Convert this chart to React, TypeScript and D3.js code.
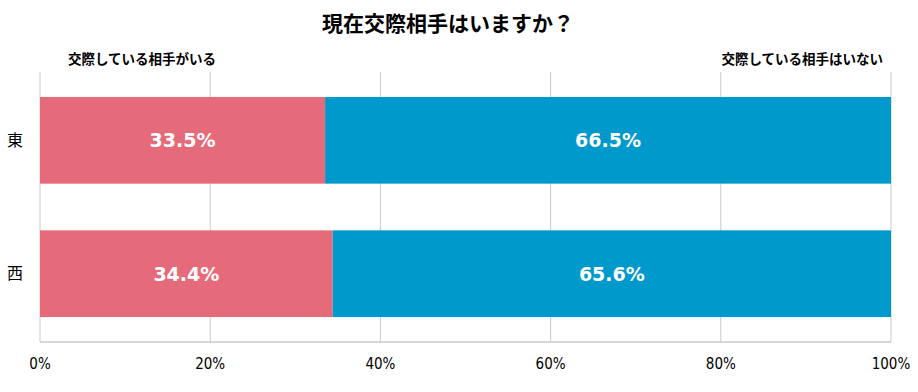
import * as d3 from 'd3';

const categories = ['東', '西'];
const seriesNames = ['交際している相手がいる', '交際している相手はいない'];
const yesValues = [33.5, 34.4];
const noValues = [66.5, 65.6];
const tickValues = [0, 20, 40, 60, 80, 100];

const W = 918;
const H = 392;
const margin = { top: 72, right: 27, bottom: 50, left: 40 };
const jpFont = '"Noto Sans CJK JP", sans-serif';

const App = () => {
  const innerW = W - margin.left - margin.right;
  const innerH = H - margin.top - margin.bottom;

  const x = d3.scaleLinear().domain([0, 100]).range([0, innerW]);
  const y = d3.scaleBand().domain(categories).range([0, innerH]).paddingInner(0.35).paddingOuter(0.187);

  const rows = categories.map((c, i) => ({ cat: c, yes: yesValues[i], no: noValues[i] }));

  return (
    <svg width={W} height={H} style={{ display: 'block', position: 'absolute', left: 0, top: 0 }}>
      <rect width={W} height={H} fill="#fff" />
      <text x={448} y={31} textAnchor="middle" fontFamily={jpFont} fontWeight="bold" fontSize={21} fill="#000">
        現在交際相手はいますか？
      </text>
      <text x={68} y={64} fontFamily={jpFont} fontWeight="bold" fontSize={13.5} fill="#000">
        {seriesNames[0]}
      </text>
      <text x={883} y={64} textAnchor="end" fontFamily={jpFont} fontWeight="bold" fontSize={13.5} fill="#000">
        {seriesNames[1]}
      </text>
      <g transform={`translate(${margin.left},${margin.top})`}>
        {tickValues.map((t) => (
          <line key={t} x1={x(t)} x2={x(t)} y1={0} y2={innerH} stroke="#c8c8c8" strokeWidth={1} />
        ))}
        <line x1={0} x2={innerW} y1={innerH} y2={innerH} stroke="#c8c8c8" strokeWidth={1.5} />
        {rows.map((r) => (
          <g key={r.cat}>
            <rect x={x(0)} y={y(r.cat)} width={x(r.yes) - x(0)} height={y.bandwidth()} fill="#e56b7b" />
            <rect x={x(r.yes)} y={y(r.cat)} width={x(r.yes + r.no) - x(r.yes)} height={y.bandwidth()} fill="#0099cc" />
            <text x={x(r.yes / 2)} y={(y(r.cat) as number) + y.bandwidth() / 2} dy="0.36em" textAnchor="middle"
              fontFamily="Verdana, 'DejaVu Sans', sans-serif" fontWeight="bold" fontSize={19} fill="#fff">
              {r.yes.toFixed(1)}%
            </text>
            <text x={x(r.yes + r.no / 2)} y={(y(r.cat) as number) + y.bandwidth() / 2} dy="0.36em" textAnchor="middle"
              fontFamily="Verdana, 'DejaVu Sans', sans-serif" fontWeight="bold" fontSize={19} fill="#fff">
              {r.no.toFixed(1)}%
            </text>
            <text x={-25} y={(y(r.cat) as number) + y.bandwidth() / 2} dy="0.36em" textAnchor="middle"
              fontFamily={jpFont} fontSize={16} fill="#000">
              {r.cat}
            </text>
          </g>
        ))}
        {tickValues.map((t) => (
          <text key={t} x={x(t)} y={innerH + 27} textAnchor="middle" fontFamily="'DejaVu Sans Condensed', 'DejaVu Sans', sans-serif" fontSize={15} fill="#000">
            {t}%
          </text>
        ))}
      </g>
    </svg>
  );
};

export default App;
